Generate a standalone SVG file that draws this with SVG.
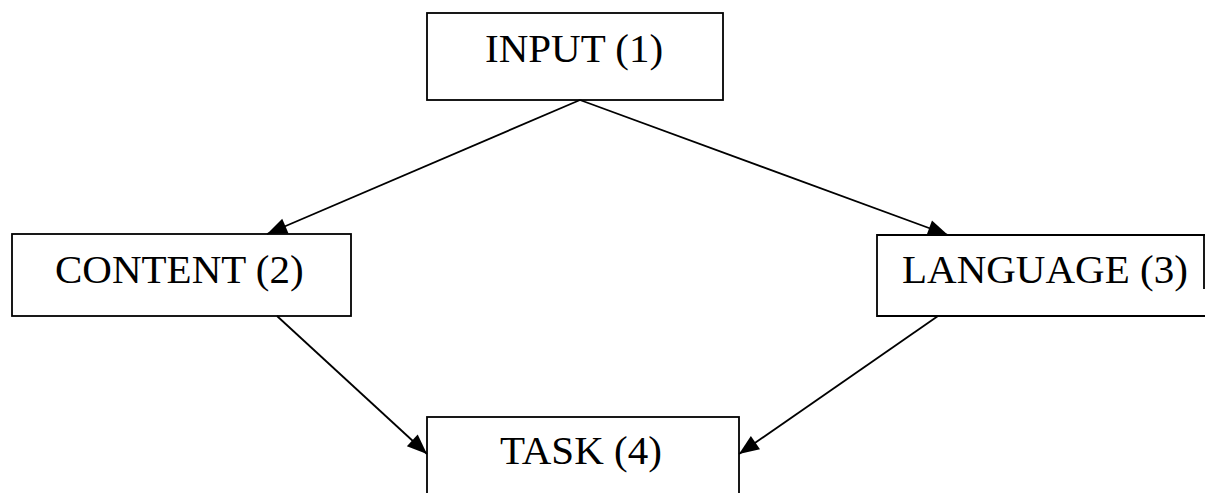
<svg xmlns="http://www.w3.org/2000/svg" width="1205" height="493" viewBox="0 0 1205 493">
  <style>
    .box { fill: #ffffff; stroke: #000000; stroke-width: 1.8; }
    .lbl { font-family: "Liberation Serif", "Times New Roman", serif; font-size: 41px; fill: #000000; }
    .edge { fill: none; stroke: #000000; stroke-width: 1.8; marker-end: url(#arrow); }
  </style>
  <defs>
    <marker id="arrow" markerUnits="userSpaceOnUse" markerWidth="22" markerHeight="18" refX="20" refY="8" orient="auto" style="overflow:visible">
      <path d="M0,0 L20,8 L0,16 z" fill="#000000"/>
    </marker>
  </defs>
  <rect width="1205" height="493" fill="#ffffff"/>
  <g id="node-input">
    <rect class="box" x="427" y="13" width="296" height="87"/>
    <text class="lbl" x="485" y="62">INPUT (1)</text>
  </g>
  <g id="node-content">
    <rect class="box" x="12" y="234" width="339" height="82"/>
    <text class="lbl" x="55" y="283">CONTENT (2)</text>
  </g>
  <g id="node-language">
    <path class="box" d="M1210,235 L877,235 L877,316 L1210,316 M1204,235 L1204,289"/>
    <text class="lbl" x="902" y="283">LANGUAGE (3)</text>
  </g>
  <g id="node-task">
    <rect class="box" x="427" y="417" width="312" height="90"/>
    <text class="lbl" x="500" y="464">TASK (4)</text>
  </g>
  <g id="connectors">
    <line class="edge" x1="580" y1="100" x2="267" y2="234"/>
    <line class="edge" x1="580" y1="100" x2="948" y2="235"/>
    <line class="edge" x1="277" y1="316" x2="427" y2="454"/>
    <line class="edge" x1="938" y1="316" x2="739" y2="454"/>
  </g>
</svg>
